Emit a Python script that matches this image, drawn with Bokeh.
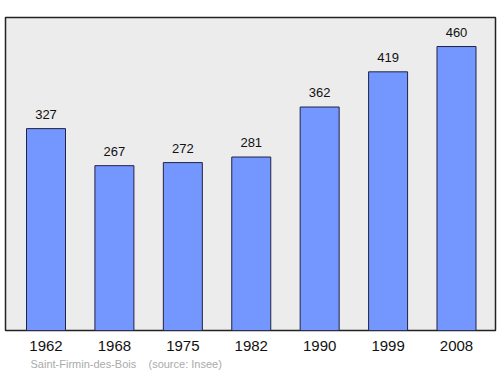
from bokeh.plotting import figure
from bokeh.models import ColumnDataSource, Range1d, Title, FixedTicker
from bokeh.core.properties import value
from bokeh.embed import file_html
from bokeh.resources import INLINE

years = ["1962", "1968", "1975", "1982", "1990", "1999", "2008"]
population = [327, 267, 272, 281, 362, 419, 460]
footer = "Saint-Firmin-des-Bois\u00a0\u00a0\u00a0\u00a0(source: Insee)"

xs = list(range(len(years)))
src = ColumnDataSource(dict(x=xs, top=population, label=[str(v) for v in population]))

p = figure(width=500, height=374, output_backend="svg", toolbar_location=None,
           x_range=Range1d(-0.592, 6.57), y_range=Range1d(0, 507),
           min_border_left=5, min_border_right=5, min_border_top=17, min_border_bottom=44)
p.background_fill_color = "#ececec"
p.border_fill_color = "white"
p.outline_line_color = "#222222"
p.outline_line_width = 1.5
p.xgrid.visible = False
p.ygrid.visible = False
p.yaxis.visible = False

p.vbar(x="x", top="top", width=0.57, bottom=0, source=src,
       fill_color="#7396ff", line_color="#222244", line_width=1)
p.text(x="x", y="top", text="label", source=src, text_align="center",
       text_baseline="bottom", y_offset=-10, text_font_size="13px",
       text_color="#111111", text_font=value("Liberation Sans"))

ax = p.xaxis[0]
ax.ticker = FixedTicker(ticks=xs)
ax.major_label_overrides = {i: y for i, y in enumerate(years)}
ax.axis_line_color = None
ax.major_tick_line_color = None
ax.minor_tick_line_color = None
ax.major_tick_out = 0
ax.major_tick_in = 0
ax.minor_tick_out = 0
ax.major_label_text_font_size = "15px"
ax.major_label_text_font = "Liberation Sans"
ax.major_label_text_color = "#111111"
ax.major_label_standoff = 10

p.add_layout(Title(text=footer, text_font_size="11px", text_color="#aaaaaa",
                   text_font="Liberation Sans", standoff=5,
                   text_font_style="normal", align="left", offset=25), "below")

open("out.html", "w").write(file_html(p, INLINE))
